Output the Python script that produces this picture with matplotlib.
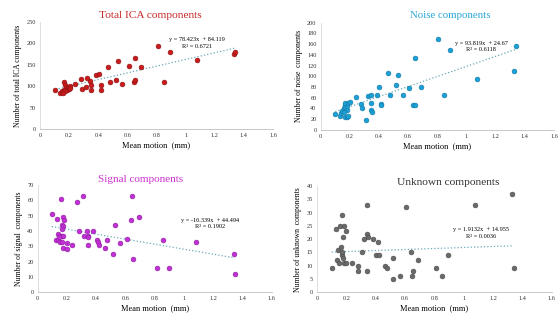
import numpy as np
import matplotlib
matplotlib.use('Agg')
import matplotlib.pyplot as plt

plt.rcParams['font.family'] = ['Liberation Serif', 'DejaVu Serif']

# values
total_x = [0.106, 0.136, 0.152, 0.163, 0.168, 0.175, 0.18, 0.186, 0.19, 0.197, 0.204, 0.209,
           0.17, 0.159, 0.238, 0.282, 0.289, 0.316, 0.323, 0.341, 0.353, 0.35, 0.385, 0.408,
           0.419, 0.421, 0.467, 0.478, 0.533, 0.524, 0.565, 0.608, 0.643, 0.65, 0.654, 0.695,
           0.81, 0.848, 0.894, 1.077, 1.332, 1.339]
total_y = [90, 84, 88, 91, 111, 103, 95, 90, 99, 93, 101, 95,
           88, 85, 105, 116, 93, 99, 120, 112, 103, 91, 126, 129,
           103, 91, 144, 109, 160, 115, 105, 148, 109, 115, 166, 144,
           195, 109, 181, 162, 175, 179]

noise_x = [0.10, 0.13, 0.14, 0.148, 0.16, 0.164, 0.17, 0.178, 0.18, 0.166, 0.178, 0.187,
           0.17, 0.187, 0.16, 0.2, 0.244, 0.278, 0.285, 0.312, 0.326, 0.342, 0.346, 0.348,
           0.35, 0.383, 0.403, 0.417, 0.417, 0.462, 0.474, 0.517, 0.53, 0.563, 0.608, 0.633,
           0.644, 0.65, 0.69, 0.808, 0.843, 0.888, 1.075, 1.328, 1.337]
noise_y = [30, 26, 31, 36, 40, 47, 43, 37, 45, 25, 24, 26,
           50, 50, 34, 53, 62, 48, 40, 19, 63, 65, 50, 37,
           33, 65, 80, 48, 46, 106, 65, 83, 103, 65, 78, 47,
           47, 135, 81, 170, 66, 150, 95, 110, 157]

signal_x = [0.096, 0.135, 0.16, 0.176, 0.183, 0.169, 0.176, 0.169, 0.142, 0.153, 0.164, 0.176,
            0.126, 0.142, 0.153, 0.164, 0.148, 0.176, 0.2, 0.2, 0.235, 0.27, 0.31, 0.283,
            0.32, 0.34, 0.347, 0.347, 0.347, 0.38, 0.404, 0.415, 0.42, 0.46, 0.477, 0.518,
            0.53, 0.564, 0.614, 0.64, 0.648, 0.655, 0.696, 0.815, 0.854, 0.897, 1.08, 1.34, 1.35]
signal_y = [51, 48, 61, 49, 47, 44, 43, 41, 38, 37, 37, 37,
            34, 34, 33, 33, 36, 29, 28, 32, 31, 59, 63, 40,
            37, 40, 37, 36, 31, 40, 34, 33, 31, 29, 34, 25,
            44, 32, 35, 47, 63, 22, 49, 16, 34, 16, 33, 25, 12]

unknown_x = [0.10, 0.13, 0.145, 0.14, 0.15, 0.16, 0.163, 0.168, 0.168, 0.17, 0.18, 0.18,
             0.184, 0.184, 0.20, 0.20, 0.236, 0.28, 0.28, 0.31, 0.32, 0.343, 0.343, 0.345,
             0.343, 0.384, 0.415, 0.40, 0.42, 0.464, 0.475, 0.52, 0.52, 0.564, 0.61, 0.64,
             0.645, 0.655, 0.69, 0.81, 0.85, 0.895, 1.08, 1.33, 1.34]
unknown_y = [9, 24, 16, 12, 11, 25, 17, 29, 14, 15, 21, 13,
             25, 11, 23, 11, 11, 10, 8, 15, 20, 33, 22, 21,
             8, 20, 19, 14, 14, 10, 9, 13, 5, 6, 32, 15,
             6, 8, 12, 9, 6, 14, 33, 37, 9]

# trend line coefficients and labels shown on the chart
fits = [(78.423, 84.119), (93.819, 24.67), (-16.339, 44.494), (1.9132, 14.955)]
fit_text = ['y = 78.423x  + 84.119\nR² = 0.6721',
            'y = 93.819x  + 24.67\nR² = 0.6118',
            'y = -16.339x  + 44.494\nR² = 0.1902',
            'y = 1.9132x  + 14.955\nR² = 0.0036']

titles = ['Total ICA components', 'Noise components', 'Signal components', 'Unknown components']
ylabels = ['Number of total ICA components', 'Number of noise  components',
           'Number of signal  components', 'Number of unknown  components']
title_colors = ['#c62828', '#2aa6d6', '#cc33cc', '#333333']
dot_colors = ['#c81c1c', '#1c9fd4', '#c22fd6', '#6a6a6a']
edge_colors = ['#8a1010', '#137aa6', '#8e1f9e', '#4a4a4a']
ymax = [250, 200, 70, 40]
ystep = [50, 20, 10, 5]
text_pos = [(1.08, 201), (1.10, 156), (1.18, 45), (1.12, 22.3)]

positions = [[0.0717, 0.597, 0.4176, 0.334],
             [0.5747, 0.594, 0.418, 0.335],
             [0.0676, 0.0866, 0.419, 0.335],
             [0.568, 0.0866, 0.4206, 0.332]]
title_xy = [(0.472, 1.065), (0.555, 1.063), (0.44, 1.056), (0.558, 1.03)]
title_size = [8.2, 7.8, 8.0, 8.2]

xs = [total_x, noise_x, signal_x, unknown_x]
ys = [total_y, noise_y, signal_y, unknown_y]

fig = plt.figure(figsize=(5.58, 3.2), dpi=100)

for i in range(4):
    ax = fig.add_axes(positions[i])
    x = np.array(xs[i])
    y = np.array(ys[i])
    ax.scatter(x, y, s=12, color=dot_colors[i], edgecolors=edge_colors[i],
               linewidths=0.4, zorder=3)

    m, b = fits[i]
    lx = np.array([x.min(), x.max()])
    ax.plot(lx, m * lx + b, linestyle=':', color='#6aaab8', linewidth=0.9, zorder=2)
    ax.text(text_pos[i][0], text_pos[i][1], fit_text[i], fontsize=4.5, ha='center',
            va='center', linespacing=1.3)

    ax.set_xlim(0, 1.6)
    ax.set_ylim(0, ymax[i])
    ax.set_xticks(np.arange(0, 1.61, 0.2))
    ax.set_xticklabels(['0', '0.2', '0.4', '0.6', '0.8', '1', '1.2', '1.4', '1.6'])
    ax.set_yticks(np.arange(0, ymax[i] + 0.1, ystep[i]))
    ax.tick_params(length=0, labelsize=4.5, pad=3, colors='#333333')

    for s in ['top', 'right']:
        ax.spines[s].set_visible(False)
    ax.spines['left'].set_color('#d9d9d9')
    ax.spines['bottom'].set_color('#bfbfbf')
    ax.spines['left'].set_linewidth(0.6)
    ax.spines['bottom'].set_linewidth(0.6)

    ax.set_xlabel('Mean motion  (mm)', fontsize=6, labelpad=2)
    ax.set_ylabel(ylabels[i], fontsize=5.5, labelpad=3)
    ax.text(title_xy[i][0], title_xy[i][1], titles[i], transform=ax.transAxes,
            fontsize=title_size[i], color=title_colors[i], ha='center', va='center')

fig.savefig('out.png', dpi=100)
